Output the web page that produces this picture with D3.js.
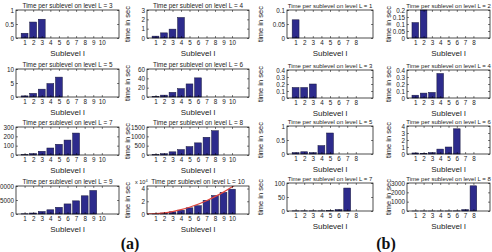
<!DOCTYPE html>
<html>
<head>
<meta charset="utf-8">
<script src="https://cdn.jsdelivr.net/npm/d3@7"></script>
<style>
  body { margin: 0; background: #fff; }
  svg { font-family: Arial, "Liberation Sans", sans-serif; }
</style>
</head>
<body>
<div id="chart"></div>
<script>
// time per sublevel, group (a): levels L = 3..10
var a3 = [0.17, 0.57, 0.67];
var a4 = [0.2, 0.55, 0.95, 2.2];
var a5 = [0.4, 1.3, 2.8, 4.8, 7.1];
var a6 = [1, 4, 10, 18, 28, 41];
var a7 = [3, 15, 40, 75, 115, 160, 235];
var a8 = [15, 70, 170, 290, 450, 650, 950, 1300];
var a9 = [80, 350, 900, 1500, 2400, 3600, 4700, 6500, 8400];
var a10 = [300, 1500, 3500, 6000, 9700, 13000, 21500, 29000, 34000, 39000];
// red fitted curve in L = 10 (x, value)
var fitX = [0, 1, 2, 3, 4, 5, 6, 7, 8, 9, 10, 11];
var fitY = [0, 400, 1700, 3800, 6800, 10600, 15300, 20800, 27200, 34400, 42500, 51000];

// group (b): levels L = 1..8
var b1 = [0.065];
var b2 = [0.11, 0.2];
var b3 = [0.15, 0.15, 0.2];
var b4 = [0.04, 0.07, 0.08, 0.35];
var b5 = [0.05, 0.08, 0.05, 0.3, 0.75];
var b6 = [0.15, 0.1, 0.2, 0.7, 1.0, 3.6];
var b7 = [0.5, 0.5, 0.5, 0.5, 1, 5, 82];
var b8 = [2, 2, 2, 2, 5, 15, 150, 2700];

var yMaxA = [1, 3, 10, 60, 300, 1500, 10000, 44000];
var yTicksA = [[0, 0.5, 1], [0, 1, 2, 3], [0, 5, 10], [0, 20, 40, 60], [0, 100, 200, 300],
  [0, 500, 1000, 1500], [0, 5000, 10000], [0, 20000, 40000]];
var yMaxB = [0.1, 0.2, 0.4, 0.4, 1, 4, 100, 3000];
var yTicksB = [[0, 0.05, 0.1], [0, 0.05, 0.1, 0.15, 0.2], [0, 0.1, 0.2, 0.3, 0.4], [0, 0.1, 0.2, 0.3, 0.4],
  [0, 0.5, 1], [0, 1, 2, 3, 4], [0, 50, 100], [0, 1000, 2000, 3000]];
var xTicksA = [1, 2, 3, 4, 5, 6, 7, 8, 9, 10];
var xTicksB = [1, 2, 3, 4, 5, 6, 7, 8];

var width = 492, height = 252;
var svg = d3.select("#chart").append("svg")
  .attr("width", width).attr("height", height);
svg.append("rect").attr("width", width).attr("height", height).attr("fill", "#fff");

var boxH = 28;
var colsA = [[16, 119], [147, 249]], rowsA = [10, 69, 127, 186];
var colsB = [[287, 373], [407, 490]], rowsB = [10, 70, 126, 183];

function panel(p) {
  var g = svg.append("g");
  var x = d3.scaleLinear().domain([0, p.xMax]).range([p.x0, p.x1]);
  var y = d3.scaleLinear().domain([0, p.yMax]).range([p.top + boxH, p.top]);
  var bw = x(0.8) - x(0);

  g.selectAll("rect.bar").data(p.values).enter().append("rect")
    .attr("class", "bar")
    .attr("x", function (d, i) { return x(i + 1) - bw / 2; })
    .attr("y", function (d) { return y(Math.min(d, p.yMax)); })
    .attr("width", bw)
    .attr("height", function (d) { return y(0) - y(Math.min(d, p.yMax)); })
    .attr("fill", "#2d2b8c")
    .attr("stroke", "#15153a")
    .attr("stroke-width", 0.5);

  if (p.fit) {
    var id = "clip" + p.title.replace(/\W/g, "");
    g.append("clipPath").attr("id", id).append("rect")
      .attr("x", p.x0).attr("y", p.top).attr("width", p.x1 - p.x0).attr("height", boxH);
    var line = d3.line()
      .x(function (d) { return x(d[0]); })
      .y(function (d) { return y(d[1]); })
      .curve(d3.curveMonotoneX);
    g.append("path")
      .datum(d3.zip(fitX, fitY))
      .attr("clip-path", "url(#" + id + ")")
      .attr("d", line)
      .attr("fill", "none")
      .attr("stroke", "#e0473f")
      .attr("stroke-width", 1.3);
  }

  var fmt = p.fmt || function (d) { return d; };
  var bottom = g.append("g").attr("transform", "translate(0," + (p.top + boxH) + ")")
    .call(d3.axisBottom(x).tickValues(p.xTicks).tickSizeInner(-2).tickSizeOuter(0).tickPadding(2.5));
  var top = g.append("g").attr("transform", "translate(0," + p.top + ")")
    .call(d3.axisTop(x).tickValues(p.xTicks).tickSizeInner(-2).tickSizeOuter(0).tickFormat(""));
  var left = g.append("g").attr("transform", "translate(" + p.x0 + ",0)")
    .call(d3.axisLeft(y).tickValues(p.yTicks).tickSizeInner(-2).tickSizeOuter(0).tickPadding(2).tickFormat(fmt));
  var right = g.append("g").attr("transform", "translate(" + p.x1 + ",0)")
    .call(d3.axisRight(y).tickValues(p.yTicks).tickSizeInner(-2).tickSizeOuter(0).tickFormat(""));
  [bottom, top, left, right].forEach(function (a) {
    a.select(".domain").remove();
    a.selectAll("line").attr("stroke", "#000").attr("stroke-width", 0.5);
    a.selectAll("text").attr("font-size", 6.3).attr("fill", "#222")
      .attr("font-family", "Arial, 'Liberation Sans', sans-serif");
  });

  g.append("rect")
    .attr("x", p.x0).attr("y", p.top).attr("width", p.x1 - p.x0).attr("height", boxH)
    .attr("fill", "none").attr("stroke", "#000").attr("stroke-width", 0.7);

  g.append("text")
    .attr("x", (p.x0 + p.x1) / 2).attr("y", p.top - 2)
    .attr("text-anchor", "middle").attr("font-size", p.titleSize).attr("fill", "#222")
    .text(p.title);

  g.append("text")
    .attr("x", (p.x0 + p.x1) / 2).attr("y", p.top + boxH + 17.5)
    .attr("text-anchor", "middle").attr("font-size", 8).attr("fill", "#222")
    .text("Sublevel l");

  // the left column of (a) has its y label outside the picture
  if (p.yLabOff) {
    g.append("text")
      .attr("transform", "translate(" + (p.x0 - p.yLabOff) + "," + (p.top + boxH / 2) + ") rotate(-90)")
      .attr("text-anchor", "middle").attr("font-size", 7.5).attr("fill", "#222")
      .text("time in sec");
  }

  if (p.expo) {
    var t = g.append("text").attr("x", p.x0 - 12).attr("y", p.top - 2)
      .attr("font-size", 5.5).attr("fill", "#222");
    t.append("tspan").text("x 10");
    t.append("tspan").attr("dy", -2.5).attr("font-size", 4).text("4");
  }
}

var groupA = [a3, a4, a5, a6, a7, a8, a9, a10];
groupA.forEach(function (vals, i) {
  var c = colsA[i % 2];
  panel({
    x0: c[0], x1: c[1], top: rowsA[Math.floor(i / 2)],
    xMax: 12, xTicks: xTicksA,
    yMax: yMaxA[i], yTicks: yTicksA[i], values: vals,
    title: "Time per sublevel on level L = " + (i + 3), titleSize: 6.4,
    yLabOff: i % 2 === 0 ? 0 : 17,
    fmt: i === 7 ? function (d) { return d / 10000; } : null,
    fit: i === 7, expo: i === 7
  });
});

var groupB = [b1, b2, b3, b4, b5, b6, b7, b8];
groupB.forEach(function (vals, i) {
  var c = colsB[i % 2];
  panel({
    x0: c[0], x1: c[1], top: rowsB[Math.floor(i / 2)],
    xMax: 10, xTicks: xTicksB,
    yMax: yMaxB[i], yTicks: yTicksB[i], values: vals,
    title: "Time per sublevel on level L = " + (i + 1), titleSize: 6,
    yLabOff: i % 2 === 0 ? 24 : 16
  });
});

svg.append("text").attr("x", 130).attr("y", 249).attr("text-anchor", "middle")
  .style("font-family", "'Liberation Serif', 'Times New Roman', serif")
  .attr("font-weight", "bold").attr("font-size", 16).attr("fill", "#111").text("(a)");
svg.append("text").attr("x", 386).attr("y", 249).attr("text-anchor", "middle")
  .style("font-family", "'Liberation Serif', 'Times New Roman', serif")
  .attr("font-weight", "bold").attr("font-size", 16).attr("fill", "#111").text("(b)");
</script>
</body>
</html>
